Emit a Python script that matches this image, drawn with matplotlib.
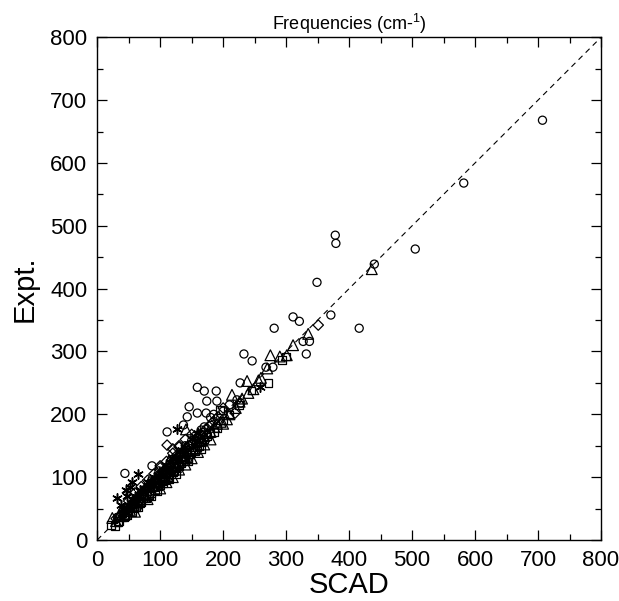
import matplotlib.pyplot as plt
from matplotlib.ticker import MultipleLocator

plt.rcParams['font.family'] = ['Liberation Sans', 'DejaVu Sans']

# SCAD vs Expt. frequencies, one pair of lists per marker type
circle_x = [707, 582, 378, 379, 505, 440, 349, 371, 416, 311, 321, 281, 233, 246, 327, 337, 332, 268, 279,
            227, 159, 170, 189, 174, 190, 159, 173, 146, 143, 137, 111, 87, 44, 222,
            40, 55, 70, 85, 100, 115, 130, 145, 165, 180, 200, 210, 228, 62, 78, 95, 122, 138,
            48, 60, 75, 92, 108, 125, 135, 150, 155, 170, 185, 98, 118, 140, 32]
circle_y = [668, 568, 485, 472, 463, 439, 410, 358, 337, 355, 348, 337, 296, 285, 316, 316, 296, 275, 275,
            250, 243, 237, 237, 221, 221, 202, 202, 212, 196, 183, 172, 118, 106, 223,
            45, 58, 72, 90, 103, 120, 135, 150, 175, 195, 205, 215, 218, 66, 80, 98, 126, 142,
            50, 64, 80, 95, 112, 130, 140, 158, 165, 180, 200, 110, 128, 150, 36]

tri_x = [24, 38, 48, 58, 68, 80, 90, 98, 110, 120, 128, 138, 146, 155, 162, 170, 180, 190, 206, 214,
         238, 240, 256, 270, 275, 290, 301, 311, 335, 436, 141, 220, 230, 248, 260, 125, 105, 75,
         30, 35, 44, 52, 62, 66, 76, 85, 94, 102, 107, 116, 124, 132, 142, 152, 158, 166, 175, 186,
         196, 210, 226, 160,
         60, 80, 100, 120, 140, 160, 180, 200, 110, 130, 150, 170]
tri_y = [35, 38, 46, 55, 64, 75, 86, 92, 104, 112, 120, 130, 138, 145, 160, 165, 172, 185, 192, 231,
         253, 234, 254, 273, 294, 292, 294, 310, 328, 431, 176, 210, 225, 240, 258, 116, 98, 69,
         30, 40, 42, 48, 58, 68, 72, 80, 90, 96, 108, 110, 122, 126, 134, 146, 152, 158, 170, 180,
         188, 200, 220, 168,
         45, 65, 82, 100, 120, 140, 160, 185, 92, 112, 130, 152]

sq_x = [22, 35, 45, 55, 62, 70, 78, 85, 92, 100, 108, 115, 122, 130, 140, 148, 158, 165, 175, 185,
        195, 210, 225, 245, 272, 293, 300, 40, 50, 65, 75, 88, 95, 105, 118, 135, 150, 200,
        28, 33, 43, 48, 53, 58, 68, 73, 82, 90, 97, 103, 112, 120, 126, 133, 138, 145, 155, 162,
        170, 180, 190, 143,
        65, 85, 105, 125, 145, 165, 95, 115]
sq_y = [24, 30, 38, 45, 52, 60, 66, 74, 80, 88, 95, 104, 110, 118, 126, 136, 148, 156, 165, 172,
        207, 200, 215, 238, 250, 286, 292, 42, 48, 62, 70, 85, 92, 98, 112, 128, 140, 190,
        22, 28, 36, 40, 50, 50, 58, 66, 72, 84, 86, 94, 100, 108, 116, 122, 132, 130, 142, 150,
        160, 170, 178, 140,
        52, 70, 90, 105, 125, 145, 78, 96]

dia_x = [30, 42, 52, 60, 72, 82, 94, 102, 112, 125, 132, 142, 150, 160, 168, 178, 188, 111, 219, 351,
         120, 100, 200, 66, 88, 136,
         36, 46, 56, 64, 76, 86, 92, 106, 116, 128, 138, 146, 155, 164, 172, 182, 192, 140, 130,
         50, 70, 90, 110, 130, 150, 80, 100, 120, 60]
dia_y = [34, 44, 52, 60, 72, 84, 96, 106, 114, 128, 136, 146, 152, 165, 170, 180, 192, 151, 202, 342,
         145, 115, 210, 62, 90, 132,
         38, 50, 58, 66, 78, 88, 94, 110, 118, 132, 142, 150, 158, 168, 176, 186, 196, 160, 150,
         62, 85, 105, 125, 148, 168, 95, 118, 138, 75]

star_x = [32, 52, 65, 127, 259, 45, 55, 38, 70, 60, 90, 110, 150, 80, 118,
          42, 50, 62, 75, 85, 96, 105, 115, 125, 135, 140, 160, 48, 58, 68]
star_y = [67, 84, 105, 176, 244, 80, 92, 55, 78, 70, 100, 120, 160, 92, 130,
          48, 56, 66, 82, 92, 104, 112, 124, 132, 144, 148, 170, 70, 64, 80]

fig = plt.figure(figsize=(6.19, 6.01), dpi=100)
ax = fig.add_axes([0.157, 0.1015, 0.814, 0.8365])

ax.plot([0, 800], [0, 800], color='black', lw=0.8, dashes=(5, 4))

mk = dict(facecolors='none', edgecolors='black', linewidths=0.9)
ax.scatter(circle_x, circle_y, marker='o', s=34, **mk)
ax.scatter(tri_x, tri_y, marker='^', s=60, **mk)
ax.scatter(sq_x, sq_y, marker='s', s=30, **mk)
ax.scatter(dia_x, dia_y, marker='D', s=28, **mk)
ax.scatter(star_x, star_y, marker=(6, 2, 0), s=45, color='black', linewidths=1.1)

ax.set_xlim(0, 800)
ax.set_ylim(0, 800)
ax.xaxis.set_major_locator(MultipleLocator(100))
ax.yaxis.set_major_locator(MultipleLocator(100))
ax.xaxis.set_minor_locator(MultipleLocator(50))
ax.yaxis.set_minor_locator(MultipleLocator(50))
ax.tick_params(which='both', direction='in', top=True, right=True, width=0.9)
ax.tick_params(which='major', length=7, labelsize=16, pad=7)
ax.tick_params(which='minor', length=4)
for s in ax.spines.values():
    s.set_linewidth(1.0)

ax.set_xlabel('SCAD', fontsize=21, labelpad=0)
ax.set_ylabel('Expt.', fontsize=21, labelpad=8)
ax.set_title('Frequencies (cm-$^{\\mathregular{1}}$)', fontsize=13, pad=5)

fig.savefig('out.png', dpi=100)
